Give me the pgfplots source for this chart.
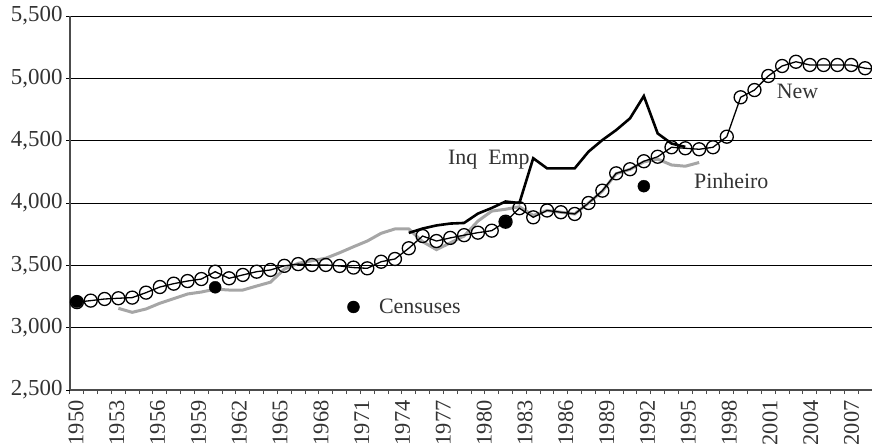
\documentclass[border=0pt]{standalone}
\usepackage{fontspec}
\setmainfont{Liberation Serif}
\usepackage{pgfplots}
\pgfplotsset{compat=1.18}
\definecolor{pinheiro}{HTML}{A6A6A6}
\definecolor{txt}{HTML}{333333}

\begin{document}
\begin{tikzpicture}
\begin{axis}[
    scale only axis,
    width=802bp, height=374bp,
    xmin=1949.5, xmax=2007.5,
    ymin=2500, ymax=5500,
    axis x line*=bottom, axis y line*=left,
    axis line style={black!70, line width=1.2bp, -},
    % year labels sit a little left of their categories, as in the original
    xtick={1949.934,1952.886,1955.839,1958.791,1961.743,1964.695,1967.648,
           1970.600,1973.552,1976.504,1979.457,1982.409,1985.361,1988.314,
           1991.266,1994.218,1997.170,2000.123,2003.075,2006.027},
    xticklabels={1950,1953,1956,1959,1962,1965,1968,1971,1974,1977,
                 1980,1983,1986,1989,1992,1995,1998,2001,2004,2007},
    minor xtick={1949.5,1950.5,...,2007.5},
    ytick={2500,3000,...,5500},
    tick align=outside,
    major tick length=4bp, minor tick length=4bp,
    major x tick style={draw=none},
    minor x tick style={black!70, line width=1bp},
    major y tick style={black, line width=0.8bp},
    ymajorgrids,
    major grid style={black, line width=0.8bp},
    ticklabel style={text=txt},
    x tick label style={rotate=90, anchor=east, font=\fontsize{22.5}{24}\selectfont},
    xticklabel shift=3bp,
    y tick label style={font=\fontsize{23}{25}\selectfont, /pgf/number format/1000 sep={,}},
    /pgf/number format/assume math mode=true,
]
\coordinate (sw) at (rel axis cs:0,0);
\coordinate (ne) at (rel axis cs:1,1);

% Pinheiro
\addplot[pinheiro, line width=3bp, no markers] coordinates {
(1953,3155) (1954,3123) (1955,3150) (1956,3196) (1957,3233) (1958,3270)
(1959,3286) (1960,3309) (1961,3302) (1962,3302) (1963,3334) (1964,3365)
(1965,3470) (1966,3516) (1967,3537) (1968,3557) (1969,3601) (1970,3649)
(1971,3695) (1972,3757) (1973,3792) (1974,3792) (1975,3690) (1976,3626)
(1977,3680) (1978,3735) (1979,3855) (1980,3935) (1981,3950) (1982,3970)
(1983,3900) (1984,3940) (1985,3926) (1986,3912) (1987,4000) (1988,4095)
(1989,4235) (1990,4270) (1991,4330) (1992,4352) (1993,4305) (1994,4295)
(1995,4325)
};

% Inq Emp
\addplot[black, line width=2.6bp, no markers] coordinates {
(1974,3760) (1975,3795) (1976,3820) (1977,3835) (1978,3840) (1979,3915)
(1980,3960) (1981,4012) (1982,4000) (1983,4359) (1984,4278) (1985,4278)
(1986,4278) (1987,4412) (1988,4505) (1989,4585) (1990,4679) (1991,4858)
(1992,4558) (1993,4477) (1994,4450)
};

% New
\addplot[black, line width=1.3bp, mark=o, mark size=6.5bp,
         mark options={line width=1.3bp, fill=none}] coordinates {
(1950,3205) (1951,3217) (1952,3230) (1953,3236) (1954,3241) (1955,3281)
(1956,3326) (1957,3353) (1958,3374) (1959,3390) (1960,3449) (1961,3396)
(1962,3423) (1963,3449) (1964,3463) (1965,3496) (1966,3510) (1967,3503)
(1968,3503) (1969,3495) (1970,3482) (1971,3476) (1972,3529) (1973,3551)
(1974,3637) (1975,3735) (1976,3695) (1977,3720) (1978,3742) (1979,3762)
(1980,3778) (1981,3850) (1982,3958) (1983,3885) (1984,3940) (1985,3926)
(1986,3912) (1987,4000) (1988,4099) (1989,4238) (1990,4271) (1991,4335)
(1992,4371) (1993,4447) (1994,4439) (1995,4431) (1996,4447) (1997,4532)
(1998,4848) (1999,4906) (2000,5019) (2001,5099) (2002,5133) (2003,5107)
(2004,5107) (2005,5107) (2006,5107) (2007,5081) (2008,5070)
};

% Censuses
\addplot[only marks, mark=*, mark size=6bp, black] coordinates {
(1950,3209) (1960,3324) (1970,3166) (1981,3848) (1991,4135)
};

\begin{scope}[every node/.style={font=\fontsize{22}{24}\selectfont, text=txt, inner sep=0pt, anchor=base west}]
\node at (axis cs:1976.83,4305) {Inq\enspace Emp};
\node at (axis cs:2000.6,4840) {New};
\node at (axis cs:1994.62,4118) {Pinheiro};
\node at (axis cs:1971.84,3110) {Censuses};
\end{scope}
\end{axis}
\pgfresetboundingbox
\path[use as bounding box] ([xshift=-70bp,yshift=-58bp]sw) rectangle ([yshift=16bp]ne);
\end{tikzpicture}
\end{document}
